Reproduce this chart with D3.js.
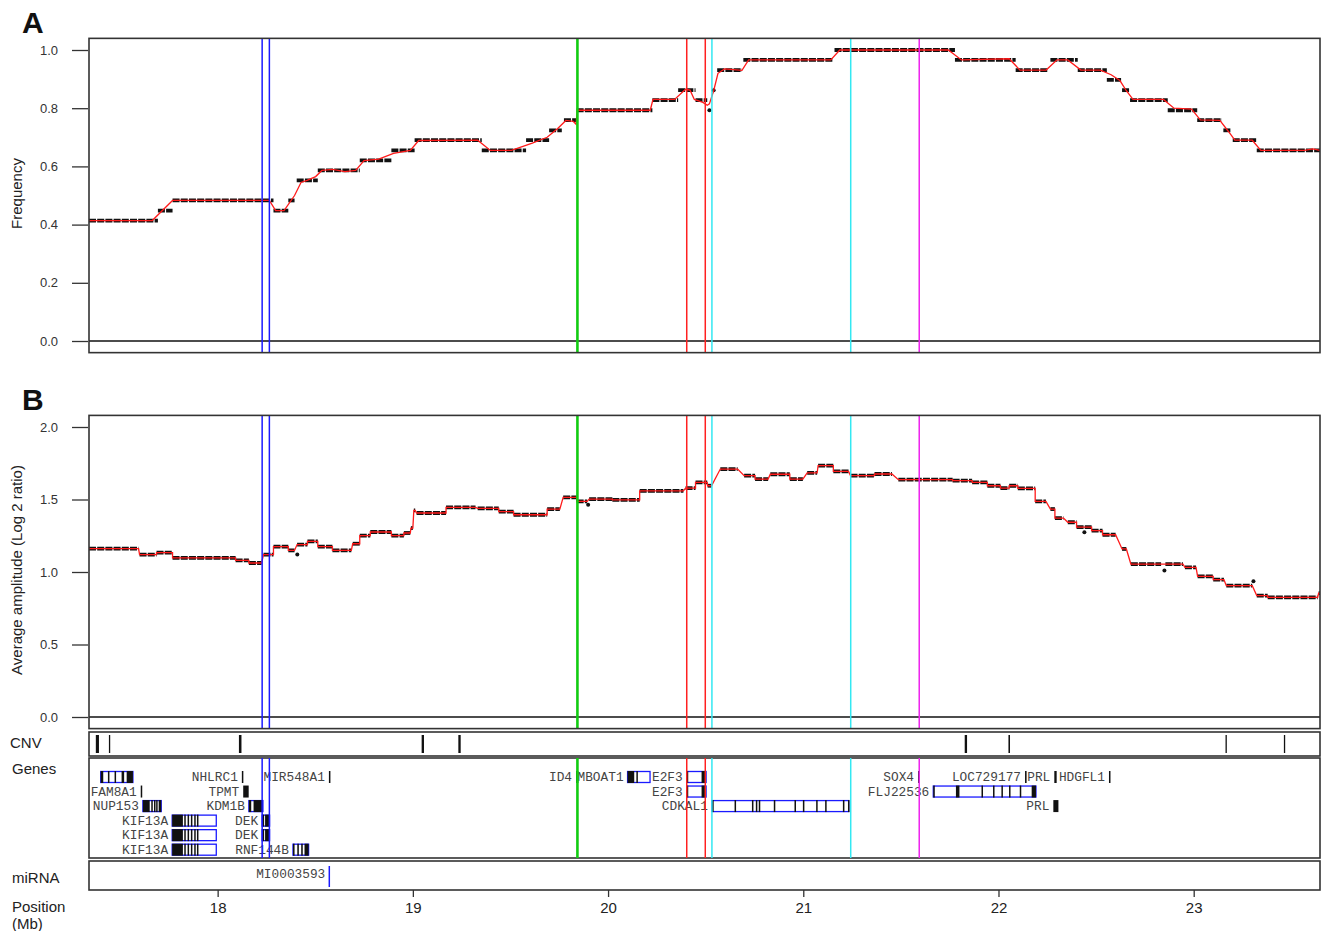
<!DOCTYPE html>
<meta charset="utf-8">
<head>
  <title>Frequency and amplitude across 6p22</title>
</head>
<style>
body { margin: 0; background: #fff; }
svg { font-family: "Liberation Sans", Arial, sans-serif; }
.frame { fill: none; stroke: #333; stroke-width: 1.6px; }
.zero { stroke: #111; stroke-width: 1.6px; }
.steps { fill: none; stroke: #111; stroke-width: 3.8px; stroke-dasharray: 7,1.2; }
.smooth { fill: none; stroke: #ff1a1a; stroke-width: 1.3px; }
.dot { fill: #111; }
.tick text { font-size: 13px; fill: #333; }
.tick line { stroke: #333; stroke-width: 1.3px; }
.xaxis .tick text { font-size: 15px; fill: #222; }
.title { font-size: 15px; fill: #222; }
.letter { font-size: 30px; font-weight: bold; fill: #111; }
.track { font-size: 15px; fill: #222; }
.gene-label { font-family: "Liberation Mono", "Courier New", monospace; font-size: 12.8px; fill: #444; }
.gene-box { fill: #fff; stroke: #1a1aff; stroke-width: 1.3px; }
.exon { fill: #111; }
.cnv { fill: #111; }
</style>
<body>
<svg width="1321" height="931"></svg>

<script src="https://cdnjs.cloudflare.com/ajax/libs/d3/7.8.5/d3.min.js"></script>
<script>
// panel A: frequency plateaus (Mb)
var freqStart = [17.341, 17.694, 17.769, 18.286, 18.362, 18.405, 18.513, 18.728, 18.890, 19.009, 19.353, 19.580, 19.698, 19.774, 19.839, 20.227, 20.359, 20.448, 20.559, 20.693, 21.160, 21.777, 22.088, 22.266, 22.406, 22.555, 22.633, 22.674, 22.867, 23.018, 23.152, 23.200, 23.323];
var freqEnd = [17.694, 17.769, 18.286, 18.362, 18.394, 18.513, 18.728, 18.890, 19.009, 19.353, 19.580, 19.698, 19.763, 19.839, 20.227, 20.359, 20.448, 20.508, 20.686, 21.154, 21.777, 22.088, 22.255, 22.406, 22.555, 22.628, 22.674, 22.867, 23.018, 23.145, 23.194, 23.323, 23.647];
var freqValue = [0.414, 0.448, 0.483, 0.448, 0.483, 0.552, 0.586, 0.621, 0.655, 0.690, 0.655, 0.690, 0.724, 0.759, 0.793, 0.828, 0.862, 0.828, 0.931, 0.966, 1.000, 0.966, 0.931, 0.966, 0.931, 0.897, 0.862, 0.828, 0.793, 0.759, 0.724, 0.690, 0.655];
var freqDotPos = [20.519, 20.541];
var freqDotValue = [0.793, 0.862];

// panel A: smoothed (red) curve
var freqLinePos = [17.341, 17.665, 17.769, 18.265, 18.297, 18.340, 18.394, 18.427, 18.458, 18.502, 18.534, 18.588, 18.652, 18.707, 18.750, 18.825, 18.901, 18.987, 19.030, 19.332, 19.397, 19.505, 19.612, 19.688, 19.742, 19.784, 19.821, 19.836, 19.842, 20.216, 20.230, 20.341, 20.397, 20.420, 20.442, 20.486, 20.508, 20.519, 20.541, 20.563, 20.597, 20.686, 20.720, 21.141, 21.187, 21.743, 21.810, 22.055, 22.110, 22.244, 22.300, 22.355, 22.422, 22.522, 22.577, 22.622, 22.655, 22.689, 22.845, 22.899, 22.989, 23.034, 23.134, 23.178, 23.211, 23.300, 23.344, 23.567, 23.611, 23.647];
var freqLineValue = [0.414, 0.414, 0.483, 0.483, 0.448, 0.448, 0.500, 0.545, 0.552, 0.565, 0.586, 0.590, 0.582, 0.586, 0.620, 0.625, 0.645, 0.655, 0.689, 0.690, 0.655, 0.655, 0.680, 0.700, 0.730, 0.758, 0.755, 0.745, 0.793, 0.793, 0.830, 0.830, 0.865, 0.862, 0.830, 0.820, 0.810, 0.815, 0.860, 0.920, 0.935, 0.930, 0.966, 0.966, 1.000, 1.000, 0.966, 0.970, 0.931, 0.931, 0.966, 0.966, 0.931, 0.931, 0.915, 0.895, 0.860, 0.830, 0.830, 0.800, 0.797, 0.760, 0.758, 0.720, 0.690, 0.690, 0.655, 0.655, 0.660, 0.655];

// panel B: average amplitude plateaus (log2 ratio)
var ampStart = [17.341, 17.600, 17.687, 17.769, 18.092, 18.160, 18.235, 18.286, 18.362, 18.407, 18.460, 18.513, 18.588, 18.692, 18.728, 18.782, 18.890, 18.954, 18.990, 19.005, 19.019, 19.170, 19.332, 19.440, 19.516, 19.688, 19.770, 19.839, 19.903, 20.022, 20.162, 20.397, 20.448, 20.510, 20.575, 20.697, 20.753, 20.831, 20.931, 21.020, 21.076, 21.154, 21.242, 21.365, 21.487, 21.765, 21.865, 21.943, 22.010, 22.055, 22.099, 22.188, 22.266, 22.289, 22.355, 22.400, 22.477, 22.533, 22.633, 22.678, 22.855, 22.955, 23.020, 23.100, 23.167, 23.323, 23.379, 23.640];
var ampEnd = [17.595, 17.687, 17.769, 18.092, 18.160, 18.225, 18.286, 18.362, 18.394, 18.460, 18.513, 18.588, 18.685, 18.728, 18.782, 18.890, 18.954, 18.987, 19.000, 19.012, 19.170, 19.321, 19.440, 19.516, 19.688, 19.753, 19.839, 19.893, 20.022, 20.162, 20.386, 20.448, 20.508, 20.530, 20.664, 20.753, 20.820, 20.931, 20.998, 21.071, 21.154, 21.232, 21.365, 21.454, 21.765, 21.865, 21.943, 22.010, 22.055, 22.099, 22.188, 22.243, 22.289, 22.333, 22.400, 22.477, 22.533, 22.600, 22.655, 22.833, 22.945, 23.012, 23.100, 23.155, 23.300, 23.379, 23.635, 23.647];
var ampValue = [1.161, 1.120, 1.133, 1.097, 1.080, 1.062, 1.120, 1.175, 1.149, 1.189, 1.211, 1.175, 1.149, 1.195, 1.251, 1.276, 1.251, 1.269, 1.303, 1.425, 1.407, 1.446, 1.439, 1.416, 1.395, 1.434, 1.515, 1.487, 1.503, 1.497, 1.560, 1.579, 1.618, 1.595, 1.710, 1.664, 1.641, 1.674, 1.641, 1.683, 1.733, 1.694, 1.664, 1.676, 1.637, 1.630, 1.618, 1.595, 1.579, 1.595, 1.577, 1.487, 1.434, 1.372, 1.343, 1.310, 1.285, 1.257, 1.159, 1.055, 1.055, 1.032, 0.970, 0.947, 0.906, 0.837, 0.825, 0.855];
var ampDotPos = [18.408, 19.898, 22.440, 22.850, 23.306];
var ampDotValue = [1.120, 1.464, 1.274, 1.011, 0.936];

// CNV regions
var cnvStart = [17.376, 17.443, 18.109, 19.045, 19.233, 21.827, 22.051, 23.163, 23.462];
var cnvEnd = [17.392, 17.447, 18.122, 19.057, 19.245, 21.839, 22.059, 23.166, 23.465];

// genes
var geneName = ["", "NHLRC1", "MIR548A1", "ID4", "MBOAT1", "E2F3", "SOX4", "LOC729177", "PRL", "HDGFL1",
  "FAM8A1", "TPMT", "E2F3", "FLJ22536",
  "NUP153", "KDM1B", "CDKAL1", "PRL",
  "KIF13A", "DEK", "KIF13A", "DEK", "KIF13A", "RNF144B"];
var geneRow = [0, 0, 0, 0, 0, 0, 0, 0, 0, 0, 1, 1, 1, 1, 2, 2, 2, 2, 3, 3, 4, 4, 5, 5];
var geneStart = [17.401, 18.124, 18.570, 19.836, 20.100, 20.403, 21.588, 22.136, 22.286, 22.566,
  17.606, 18.131, 20.403, 21.666,
  17.617, 18.160, 20.532, 22.281,
  17.767, 18.228, 17.767, 18.228, 17.767, 18.386];
var geneEnd = [17.566, 18.129, 18.575, 19.848, 20.215, 20.502, 21.597, 22.144, 22.298, 22.571,
  17.613, 18.159, 20.502, 22.192,
  17.711, 18.232, 21.233, 22.307,
  17.993, 18.266, 17.993, 18.266, 17.993, 18.466];
var kif13aExons = [[17.767, 17.822], [17.829, 17.833], [17.846, 17.850], [17.863, 17.867], [17.880, 17.884], [17.894, 17.898]];
var dekExons = [[18.228, 18.238], [18.243, 18.266]];
var e2f3Exons = [[20.403, 20.406], [20.479, 20.502]];
var geneExons = [
  [[17.401, 17.414], [17.438, 17.442], [17.472, 17.476], [17.508, 17.521], [17.534, 17.566]],
  [[18.124, 18.129]],
  [[18.570, 18.575]],
  [[19.836, 19.848]],
  [[20.100, 20.134], [20.145, 20.149]],
  e2f3Exons,
  [[21.588, 21.597]],
  [[22.136, 22.144]],
  [[22.286, 22.298]],
  [[22.566, 22.571]],
  [[17.606, 17.613]],
  [[18.131, 18.159]],
  e2f3Exons,
  [[21.666, 21.673], [21.782, 21.800], [21.913, 21.917], [21.972, 21.976], [22.015, 22.019], [22.054, 22.058], [22.109, 22.113], [22.170, 22.192]],
  [[17.617, 17.652], [17.660, 17.665], [17.674, 17.679], [17.685, 17.691], [17.698, 17.711]],
  [[18.160, 18.172], [18.184, 18.232]],
  [[20.532, 20.541], [20.648, 20.652], [20.737, 20.744], [20.757, 20.760], [20.772, 20.776], [20.849, 20.853], [20.955, 20.959], [20.998, 21.002], [21.066, 21.070], [21.112, 21.116], [21.203, 21.207], [21.229, 21.233]],
  [[22.281, 22.307]],
  kif13aExons, dekExons, kif13aExons, dekExons, kif13aExons,
  [[18.386, 18.394], [18.408, 18.416], [18.428, 18.436], [18.445, 18.466]]
];

// miRNA
var mirnaName = ["MI0003593"];
var mirnaPos = [18.572];

// highlighted gene boundaries
var markerPos = [18.228, 18.265, 19.843, 20.403, 20.498, 20.532, 21.243, 21.594];
var markerGene = ["DEK", "DEK", "ID4", "E2F3", "E2F3", "CDKAL1", "CDKAL1", "SOX4"];

var xTicks = [18, 19, 20, 21, 22, 23];
var freqTicks = [0, 0.2, 0.4, 0.6, 0.8, 1.0];
var ampTicks = [0, 0.5, 1.0, 1.5, 2.0];

var svg = d3.select("svg");

var x = d3.scaleLinear().domain([17.341, 23.647]).range([89, 1320]);
var yFreq = d3.scaleLinear().domain([0, 1]).range([341, 50]);
var yAmp = d3.scaleLinear().domain([0, 2]).range([717, 427]);
var rowY = d3.scaleLinear().domain([0, 5]).range([777, 849.7]);

var markerColor = d3.scaleOrdinal()
  .domain(["DEK", "ID4", "E2F3", "CDKAL1", "SOX4"])
  .range(["#1a1aff", "#11cc11", "#ff2020", "#33e8f2", "#ee22ee"]);

function drawMarkers(g, top, bottom) {
  g.selectAll("line.marker")
    .data(d3.zip(markerPos, markerGene))
    .enter()
    .append("line")
    .attr("class", "marker")
    .attr("x1", function(d) { return x(d[0]); })
    .attr("x2", function(d) { return x(d[0]); })
    .attr("y1", top)
    .attr("y2", bottom)
    .attr("stroke", function(d) { return markerColor(d[1]); })
    .attr("stroke-width", function(d) { return d[1] == "ID4" ? 2.6 : 1.5; });
}

function drawPanel(y, lo, hi, ticks, starts, ends, values, linePts, dotPos, dotVals, label, letter, letterY) {
  var g = svg.append("g");
  var top = y(hi), bottom = y(lo);

  // plateaus of probe values
  g.selectAll("line.steps")
    .data(d3.range(starts.length))
    .enter()
    .append("line")
    .attr("class", "steps")
    .attr("x1", function(i) { return x(starts[i]); })
    .attr("x2", function(i) { return x(ends[i]); })
    .attr("y1", function(i) { return y(values[i]); })
    .attr("y2", function(i) { return y(values[i]); });

  g.selectAll("circle.dot")
    .data(d3.zip(dotPos, dotVals))
    .enter()
    .append("circle")
    .attr("class", "dot")
    .attr("cx", function(d) { return x(d[0]); })
    .attr("cy", function(d) { return y(d[1]); })
    .attr("r", 2);

  var line = d3.line()
    .x(function(d) { return x(d[0]); })
    .y(function(d) { return y(d[1]); });
  g.append("path").attr("class", "smooth").attr("d", line(linePts));

  g.append("line").attr("class", "zero")
    .attr("x1", x.range()[0]).attr("x2", x.range()[1])
    .attr("y1", y(0)).attr("y2", y(0));

  drawMarkers(g, top, bottom);

  g.append("rect").attr("class", "frame")
    .attr("x", x.range()[0]).attr("y", top)
    .attr("width", x.range()[1] - x.range()[0]).attr("height", bottom - top);

  var axis = g.append("g")
    .attr("transform", "translate(88,0)")
    .call(d3.axisLeft(y).tickValues(ticks).tickFormat(d3.format(".1f")).tickSize(16).tickPadding(14));
  axis.select(".domain").remove();

  g.append("text").attr("class", "title")
    .attr("transform", "translate(16," + ((top + bottom) / 2 - 2) + ") rotate(-90)")
    .attr("text-anchor", "middle")
    .attr("dominant-baseline", "central")
    .text(label);

  g.append("text").attr("class", "letter")
    .attr("x", 22).attr("y", letterY)
    .text(letter);
}

drawPanel(yFreq, -0.04, 1.04, freqTicks, freqStart, freqEnd, freqValue,
  d3.zip(freqLinePos, freqLineValue), freqDotPos, freqDotValue, "Frequency", "A", 33);

var ampLine = [];
ampStart.forEach(function(s, i) {
  ampLine.push([s, ampValue[i]]);
  ampLine.push([ampEnd[i], ampValue[i]]);
});
drawPanel(yAmp, -0.08, 2.08, ampTicks, ampStart, ampEnd, ampValue,
  ampLine, ampDotPos, ampDotValue, "Average amplitude (Log 2 ratio)", "B", 410);

var x0 = x.range()[0], x1 = x.range()[1];

// CNV track
var cnv = svg.append("g");
cnv.append("rect").attr("class", "frame")
  .attr("x", x0).attr("y", 732).attr("width", x1 - x0).attr("height", 24);
cnv.selectAll("rect.cnv")
  .data(d3.zip(cnvStart, cnvEnd))
  .enter()
  .append("rect")
  .attr("class", "cnv")
  .attr("x", function(d) { return x(d[0]); })
  .attr("width", function(d) { return Math.max(1.3, x(d[1]) - x(d[0])); })
  .attr("y", 735)
  .attr("height", 18);

// gene track
var genes = svg.append("g");
genes.append("rect").attr("class", "frame")
  .attr("x", x0).attr("y", 758).attr("width", x1 - x0).attr("height", 100);

var gene = genes.selectAll("g.gene")
  .data(d3.range(geneName.length))
  .enter()
  .append("g")
  .attr("class", "gene");

gene.filter(function(i) { return geneExons[i].length > 1; })
  .append("rect")
  .attr("class", "gene-box")
  .attr("x", function(i) { return x(geneStart[i]); })
  .attr("width", function(i) { return x(geneEnd[i]) - x(geneStart[i]); })
  .attr("y", function(i) { return rowY(geneRow[i]) - 5.5; })
  .attr("height", 11);

gene.each(function(i) {
  d3.select(this).selectAll("rect.exon")
    .data(geneExons[i])
    .enter()
    .append("rect")
    .attr("class", "exon")
    .attr("x", function(e) { return x(e[0]); })
    .attr("width", function(e) { return Math.max(1.5, x(e[1]) - x(e[0])); })
    .attr("y", rowY(geneRow[i]) - 6)
    .attr("height", 12);
});

gene.append("text")
  .attr("class", "gene-label")
  .attr("x", function(i) { return x(geneStart[i]) - 4; })
  .attr("y", function(i) { return rowY(geneRow[i]) + 0.5; })
  .attr("text-anchor", "end")
  .attr("dominant-baseline", "central")
  .text(function(i) { return geneName[i]; });

drawMarkers(genes, 758, 858);

// miRNA track
var mir = svg.append("g");
mir.append("rect").attr("class", "frame")
  .attr("x", x0).attr("y", 861).attr("width", x1 - x0).attr("height", 29);
mir.selectAll("line.mir")
  .data(mirnaPos)
  .enter()
  .append("line")
  .attr("x1", function(d) { return x(d); })
  .attr("x2", function(d) { return x(d); })
  .attr("y1", 866).attr("y2", 887)
  .attr("stroke", "#1a1aff").attr("stroke-width", 1.5);
mir.selectAll("text.mir")
  .data(d3.zip(mirnaPos, mirnaName))
  .enter()
  .append("text")
  .attr("class", "gene-label")
  .attr("x", function(d) { return x(d[0]) - 4; })
  .attr("y", 874.5)
  .attr("text-anchor", "end")
  .attr("dominant-baseline", "central")
  .text(function(d) { return d[1]; });

// position axis
var xAxis = svg.append("g").attr("class", "xaxis")
  .attr("transform", "translate(0,890)")
  .call(d3.axisBottom(x).tickValues(xTicks).tickFormat(d3.format("d")).tickSize(7).tickPadding(5));
xAxis.select(".domain").remove();

// track labels
var labels = [["CNV", 10, 742], ["Genes", 12, 768], ["miRNA", 12, 877], ["Position", 12, 906], ["(Mb)", 12, 923]];
svg.selectAll("text.track")
  .data(labels)
  .enter()
  .append("text")
  .attr("class", "track")
  .attr("x", function(d) { return d[1]; })
  .attr("y", function(d) { return d[2]; })
  .attr("dominant-baseline", "central")
  .text(function(d) { return d[0]; });
</script>
</body>
</html>
